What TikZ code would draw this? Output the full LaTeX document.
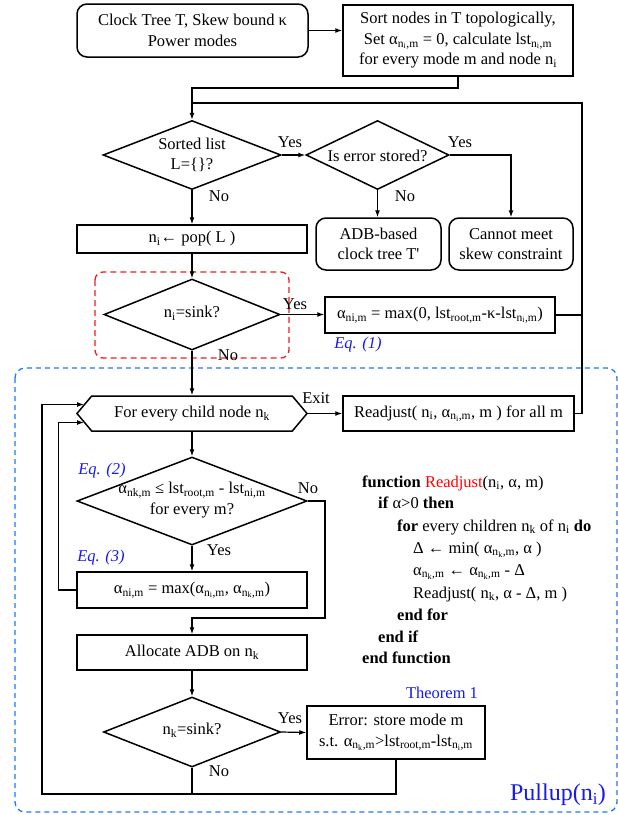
\documentclass[tikz,border=0pt]{standalone}
\usepackage{fontspec}
\setmainfont{Liberation Serif}
\usepackage{tikz}
\usetikzlibrary{shapes.geometric, shapes.symbols, arrows.meta, calc}
\definecolor{bleueq}{RGB}{25,25,235}
\definecolor{bleucadre}{RGB}{30,120,240}
\definecolor{rougecadre}{RGB}{235,30,30}
\newcommand{\sbs}[1]{\textsubscript{#1}}

\begin{document}
\begin{tikzpicture}[x=1pt, y=-1pt, font=\fontsize{16.5}{20.5}\selectfont,
    boite/.style={draw, line width=1.5pt, minimum width=230pt, align=center, inner sep=2pt},
    arrondi/.style={boite, rounded corners=10pt},
    choix/.style={draw, diamond, line width=1.5pt, inner sep=0pt},
    fleche/.style={line width=1.2pt, -{Latex[length=7pt,width=5pt]}},
    trait/.style={line width=1.2pt},
    lbl/.style={inner sep=0pt},
    eq/.style={inner sep=0pt, text=bleueq, font=\fontsize{16.5}{20.5}\selectfont\itshape},
    code/.style={anchor=base west, inner sep=0pt}]
    \useasboundingbox (0,0) rectangle (618,815);

    % cadres en pointillés
    \draw[bleucadre, dash pattern=on 5pt off 4pt, line width=1.3pt, rounded corners=10pt] (15,368) rectangle (617,812);
    \draw[rougecadre, dash pattern=on 6pt off 4pt, line width=1.3pt, rounded corners=8pt] (95,272) rectangle (289,358);

    % partie haute
    \node[arrondi, minimum width=231pt, minimum height=53pt] (debut) at (192.5,30.5) {Clock Tree T, Skew bound κ\\Power modes};
    \node[boite, minimum height=71pt] (tri) at (458,40.5) {Sort nodes in T topologically,\\Set α\sbs{n\sbs{i},m} = 0, calculate lst\sbs{n\sbs{i},m}\\for every mode m and node n\sbs{i}};
    \node[choix, minimum width=178pt, minimum height=69pt] (trie) at (192,155) {};
    \node[lbl, align=center] (trietxt) at (trie) {Sorted list\\L=\{\}?};
    \node[choix, minimum width=143pt, minimum height=69pt] (erreur) at (377.5,155) {};
    \node[lbl] (erreurtxt) at (377.5,156) {Is error stored?};
    \node[arrondi, minimum width=125pt, minimum height=52pt] (adb) at (378.5,244) {ADB-based\\clock tree T\textquotesingle};
    \node[arrondi, minimum width=124pt, minimum height=52pt] (echec) at (511,244) {Cannot meet\\skew constraint};
    \node[boite, minimum height=28pt] (pop) at (192,239) {n\sbs{i}← pop( L )};
    \node[choix, minimum width=176pt, minimum height=71pt] (puitsi) at (192,314.5) {};
    \node[lbl] (puitsitxt) at (192,313) {n\sbs{i}=sink?};
    \node[boite, minimum height=36pt] (equn) at (440,315) {α\sbs{ni,m} = max(0, lst\sbs{root,m}-κ-lst\sbs{n\sbs{i},m})};

    % boucle Pullup
    \node[draw, signal, signal to=west and east, signal pointer angle=100, line width=1.5pt,
          minimum width=230pt, minimum height=35pt, inner sep=2pt] (pourtout) at (192,413.5) {For every child node n\sbs{k}};
    \node[boite, minimum width=231pt, minimum height=35pt] (readj) at (458.5,413.5) {Readjust( n\sbs{i}, α\sbs{n\sbs{i},m}, m ) for all m};
    \node[choix, minimum width=230pt, minimum height=88pt] (verif) at (192,501) {};
    \node[lbl, align=center] (veriftxt) at (192,500) {α\sbs{nk,m} ≤ lst\sbs{root,m} - lst\sbs{ni,m}\\for every m?};
    \node[boite, minimum height=36pt] (eqtrois) at (192,590) {α\sbs{ni,m} = max(α\sbs{n\sbs{i},m}, α\sbs{n\sbs{k},m})};
    \node[boite, minimum height=35pt] (alloc) at (192,652.5) {Allocate ADB on n\sbs{k}};
    \node[choix, minimum width=177pt, minimum height=70pt] (puitsk) at (192,732) {};
    \node[lbl] (puitsktxt) at (192,730) {n\sbs{k}=sink?};
    \node[boite, minimum width=178pt, minimum height=53pt] (erreurk) at (396,732.5) {Error: store mode m\\s.t. α\sbs{n\sbs{k},m}>lst\sbs{root,m}-lst\sbs{n\sbs{i},m}};

    % étiquettes
    \node[lbl] (oui1) at (290,142) {Yes};
    \node[lbl] (oui2) at (460,142) {Yes};
    \node[lbl] (non1) at (219,196) {No};
    \node[lbl] (non2) at (405,196) {No};
    \node[lbl] (oui3) at (295,304) {Yes};
    \node[lbl] (non3) at (228,355) {No};
    \node[lbl] (sortie) at (316,398) {Exit};
    \node[lbl] (non4) at (308,488) {No};
    \node[lbl] (oui4) at (219,550) {Yes};
    \node[lbl] (oui5) at (290,718) {Yes};
    \node[lbl] (non5) at (219,771) {No};
    \node[eq] (equnlbl) at (358,345) {Eq. (1)};
    \node[eq] (eqdeuxlbl) at (102,471) {Eq. (2)};
    \node[eq] (eqtroislbl) at (101,558) {Eq. (3)};
    \node[lbl, text=bleueq] (theoreme) at (442,693) {Theorem 1};
    \node[lbl, text=bleueq, font=\fontsize{24}{28}\selectfont] (pullup) at (558,795) {Pullup(n\sbs{i})};

    % pseudo-code
    \node[code] (c1) at (362,487) {\textbf{function} \textcolor{red}{Readjust}(n\sbs{i}, α, m)};
    \node[code] (c2) at (378,508) {\textbf{if} α>0 \textbf{then}};
    \node[code] (c3) at (397,531) {\textbf{for} every children n\sbs{k} of n\sbs{i} \textbf{do}};
    \node[code] (c4) at (413,553) {Δ ← min( α\sbs{n\sbs{k},m}, α )};
    \node[code] (c5) at (413,575) {α\sbs{n\sbs{k},m} ← α\sbs{n\sbs{k},m} - Δ};
    \node[code] (c6) at (413,598) {Readjust( n\sbs{k}, α - Δ, m )};
    \node[code] (c7) at (397,620) {\textbf{end for}};
    \node[code] (c8) at (378,642) {\textbf{end if}};
    \node[code] (c9) at (362,663) {\textbf{end function}};

    % connexions
    \coordinate (coude) at (192,88);
    \coordinate (hautdroit) at (582,103);
    \coordinate (basdroit) at (582,413.5);
    \coordinate (coudenon) at (325,618);
    \coordinate (coinbas) at (42,794);
    \draw[fleche] (debut.east) -- (debut.east -| tri.west);
    \draw[fleche] (tri.south) |- (coude) -- (trie.north);
    \draw[trait] (readj.east) -- (basdroit) -- (hautdroit) -- (hautdroit -| trie.north);
    \draw[trait] (equn.east) -- (equn.east -| hautdroit);
    \draw[fleche] (trie.east) -- (erreur.west);
    \draw[fleche] (erreur.east) -| (echec.north);
    \draw[fleche] (erreur.south) -- (erreur.south |- adb.north);
    \draw[fleche] (trie.south) -- (pop.north);
    \draw[fleche] (pop.south) -- (puitsi.north);
    \draw[fleche] (puitsi.east) -- (puitsi.east -| equn.west);
    \draw[fleche] (puitsi.south) -- (pourtout.north);
    \draw[fleche] (pourtout.east) -- (readj.west);
    \draw[fleche] (pourtout.south) -- (verif.north);
    \draw[fleche] (verif.south) -- (eqtrois.north);
    \draw[fleche] (verif.east) -| (coudenon) -- (coudenon -| alloc.north) -- (alloc.north);
    \draw[fleche] (eqtrois.west) -- ++(-18,0) |- ($(pourtout.west)+(8,9)$);
    \draw[fleche] (alloc.south) -- (puitsk.north);
    \draw[fleche] (puitsk.east) -- (erreurk.west);
    \draw[trait] (puitsk.south) -- (puitsk.south |- coinbas);
    \draw[fleche] (erreurk.south) |- (coinbas) |- ($(pourtout.west)+(8,-9)$);
\end{tikzpicture}
\end{document}
